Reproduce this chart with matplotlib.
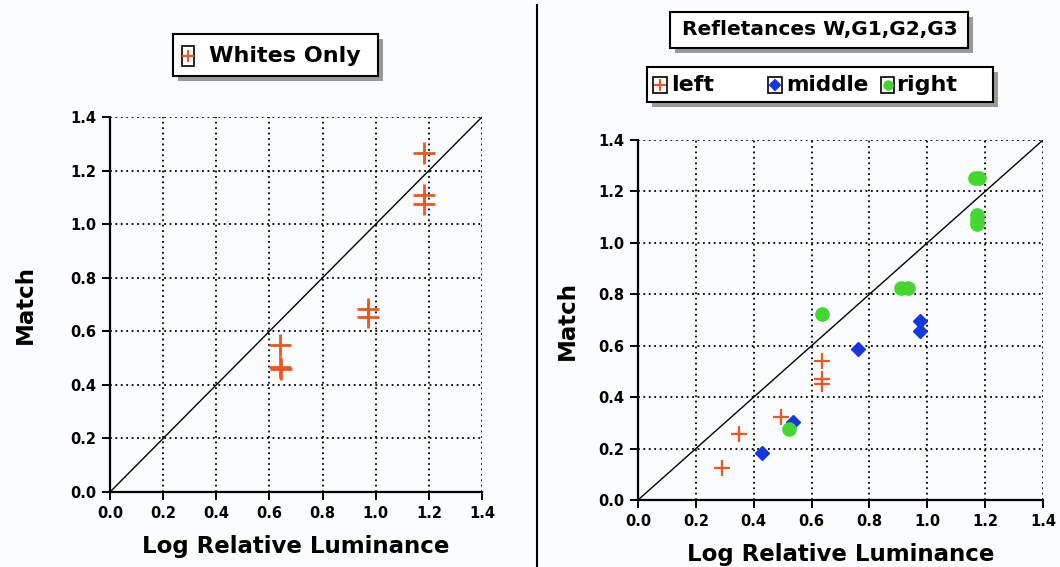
import matplotlib
matplotlib.use("Agg")
import matplotlib.pyplot as plt
from matplotlib.patches import Rectangle
from matplotlib.lines import Line2D

# ---------------- data ----------------
ticks = [0.0, 0.2, 0.4, 0.6, 0.8, 1.0, 1.2, 1.4]
tick_labels = ["0.0", "0.2", "0.4", "0.6", "0.8", "1.0", "1.2", "1.4"]

whites_x = [0.64, 0.64, 0.645, 0.97, 0.97, 1.18, 1.18, 1.18]
whites_y = [0.55, 0.465, 0.46, 0.685, 0.655, 1.265, 1.108, 1.075]

left_x = [0.29, 0.35, 0.495, 0.637, 0.637, 0.637]
left_y = [0.123, 0.257, 0.321, 0.542, 0.469, 0.451]

middle_x = [0.43, 0.536, 0.76, 0.976, 0.976]
middle_y = [0.184, 0.305, 0.586, 0.697, 0.658]

right_x = [0.522, 0.637, 0.91, 0.935, 1.165, 1.178, 1.172, 1.172, 1.172]
right_y = [0.276, 0.722, 0.825, 0.825, 1.252, 1.252, 1.11, 1.09, 1.075]

diag = [0.0, 1.4]

W, H = 1060, 567
ORANGE = "#f2551e"
BLUE = "#1438e0"
GREEN = "#45d630"

fig = plt.figure(figsize=(W / 100, H / 100), dpi=100)
fig.patch.set_facecolor("#fbfcfe")


def fx(px):
    return px / W


def fy(py):
    return 1 - py / H


def make_axes(x0, x1, ytop, ybot, ylabelpad):
    ax = fig.add_axes([fx(x0), fy(ybot), fx(x1) - fx(x0), fy(ytop) - fy(ybot)])
    ax.set_facecolor("#fbfcfe")
    ax.set_xlim(0, 1.4)
    ax.set_ylim(0, 1.4)
    ax.set_xticks(ticks)
    ax.set_yticks(ticks)
    ax.set_xticklabels(tick_labels, fontsize=10.5, fontweight="bold")
    ax.set_yticklabels(tick_labels, fontsize=10.5, fontweight="bold")
    ax.grid(True, color="black", linestyle=(0, (1, 2.0)), linewidth=1.3)
    ax.set_axisbelow(True)
    for s in ["top", "right"]:
        ax.spines[s].set_visible(False)
    for s in ["left", "bottom"]:
        ax.spines[s].set_linewidth(1.6)
    ax.tick_params(direction="out", length=6, width=1.4, pad=4)
    ax.plot(diag, diag, color="black", linewidth=1.0, zorder=2)
    ax.set_xlabel("Log Relative Luminance", fontsize=16.5, fontweight="bold",
                  labelpad=10)
    ax.set_ylabel("Match", fontsize=16.5, fontweight="bold", labelpad=ylabelpad)
    return ax


ax1 = make_axes(110, 482, 117, 492, 24)
ax1.plot(whites_x, whites_y, linestyle="none", marker="+", markersize=16,
         markeredgewidth=2.0, color=ORANGE, zorder=3)

ax2 = make_axes(638, 1043, 140, 500, 14)
ax2.plot(left_x, left_y, linestyle="none", marker="+", markersize=12,
         markeredgewidth=1.6, color=ORANGE, zorder=3)
ax2.plot(middle_x, middle_y, linestyle="none", marker="D", markersize=7.5,
         color=BLUE, zorder=3)
ax2.plot(right_x, right_y, linestyle="none", marker="o", markersize=9.5,
         color=GREEN, zorder=3)

# separator line
fig.add_artist(Line2D([fx(537), fx(537)], [fy(5), fy(567)], color="black",
                      linewidth=1.5))


def box(x0, y0, x1, y1, shadow=5):
    fig.add_artist(Rectangle((fx(x0 + shadow), fy(y1 + shadow)), fx(x1) - fx(x0),
                             fy(y0) - fy(y1), facecolor="#9a9a9a", edgecolor="none",
                             transform=fig.transFigure))
    fig.add_artist(Rectangle((fx(x0), fy(y1)), fx(x1) - fx(x0), fy(y0) - fy(y1),
                             facecolor="white", edgecolor="black", linewidth=1.5,
                             transform=fig.transFigure))


def icon(x0, y0, x1, y1, marker, color, ms, mew=1.5):
    fig.add_artist(Rectangle((fx(x0), fy(y1)), fx(x1) - fx(x0), fy(y0) - fy(y1),
                             facecolor="white", edgecolor="black", linewidth=1.2,
                             transform=fig.transFigure))
    fig.add_artist(Line2D([fx((x0 + x1) / 2)], [fy((y0 + y1) / 2)], marker=marker,
                          markersize=ms, color=color, markeredgewidth=mew,
                          linestyle="none"))


# left legend
box(173, 34, 378, 76)
icon(182, 46, 194, 66, "+", ORANGE, 9)
fig.text(fx(209), fy(56), "Whites Only", fontsize=16, fontweight="bold",
         va="center", ha="left")

# right title box
box(670, 12, 968, 48)
fig.text(fx(820), fy(30), "Refletances W,G1,G2,G3", fontsize=14.5,
         fontweight="bold", va="center", ha="center")

# right legend
box(647, 67, 993, 102)
icon(653, 77, 667, 93, "+", ORANGE, 8)
fig.text(fx(671), fy(85), "left", fontsize=16, fontweight="bold",
         va="center", ha="left")
icon(768, 77, 782, 93, "D", BLUE, 5)
fig.text(fx(786), fy(85), "middle", fontsize=15.5, fontweight="bold",
         va="center", ha="left")
icon(881, 77, 894, 93, "o", GREEN, 6)
fig.text(fx(896), fy(85), "right", fontsize=16, fontweight="bold",
         va="center", ha="left")

fig.savefig("out.png", dpi=100, facecolor=fig.get_facecolor())
